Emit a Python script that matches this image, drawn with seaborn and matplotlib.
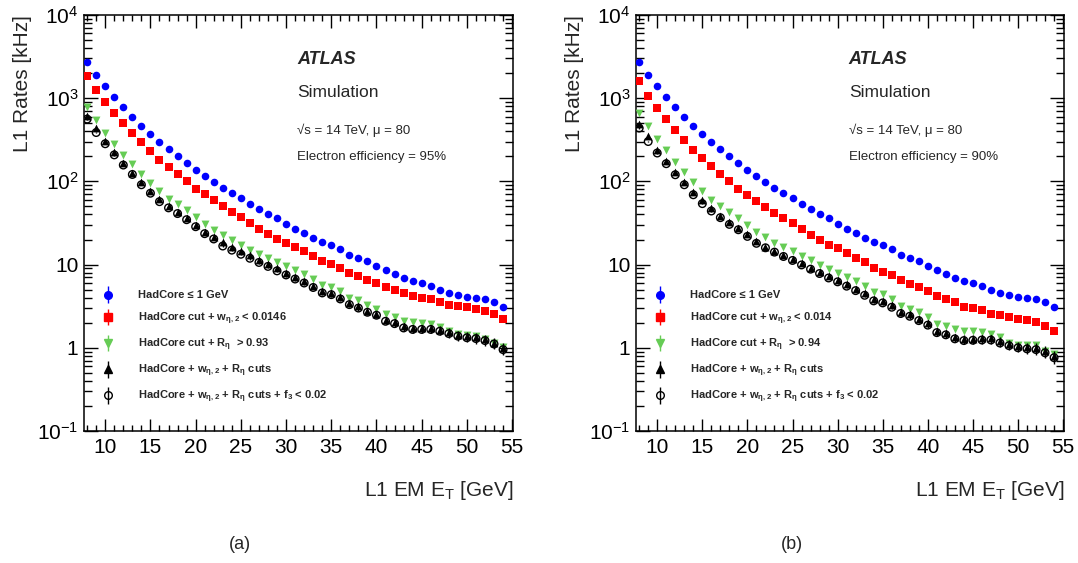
import numpy as np
import matplotlib
matplotlib.use("Agg")
import matplotlib.pyplot as plt
from matplotlib.ticker import FixedLocator, FixedFormatter, LogLocator, NullFormatter, MultipleLocator
from matplotlib.container import ErrorbarContainer
from matplotlib.legend_handler import HandlerErrorbar
import seaborn as sns

# ---------------- data ----------------
et = list(range(8, 55))  # L1 EM E_T bins [GeV]

blue_a = [2730, 1920, 1380, 1030, 780, 597, 465, 366, 296, 242, 201, 166, 138, 116, 99, 84,
          73, 63, 53, 46, 41, 36, 31, 27, 24, 21, 18.7, 17.2, 15.4, 13.1, 12.0, 10.9, 9.6,
          8.5, 7.6, 6.9, 6.4, 5.96, 5.5, 4.96, 4.56, 4.3, 4.1, 4.0, 3.9, 3.5, 3.1]
red_a = [1820, 1260, 895, 661, 496, 380, 294, 229, 182, 149, 122, 101, 82, 70, 59, 50, 43,
         37, 32, 27, 23.5, 20.5, 18.2, 16.3, 14.4, 12.7, 11.0, 10.2, 9.2, 7.85, 7.2, 6.5,
         6.0, 5.3, 4.9, 4.5, 4.2, 3.97, 3.9, 3.5, 3.3, 3.15, 3.07, 2.96, 2.8, 2.55, 2.2]
green_a = [780, 540, 380, 283, 208, 160, 121, 95, 76, 62, 54, 45, 37, 30.7, 26.2, 22.4,
           19.9, 17.0, 15.1, 13.5, 12.1, 10.8, 9.7, 8.7, 7.8, 6.7, 5.7, 5.4, 4.8, 4.0, 3.76,
           3.3, 2.93, 2.55, 2.35, 2.12, 2.05, 1.99, 1.92, 1.78, 1.58, 1.47, 1.43, 1.38,
           1.28, 1.15, 1.01]
tri_a = [614, 432, 305, 227, 166, 126, 97, 77, 61, 51, 43, 36, 30, 24.6, 21.2, 18.5, 16.4,
         14.6, 12.9, 11.5, 10.2, 9.0, 8.0, 7.1, 6.3, 5.6, 4.8, 4.55, 4.05, 3.45, 3.15, 2.8,
         2.58, 2.18, 2.04, 1.81, 1.73, 1.72, 1.72, 1.64, 1.54, 1.43, 1.37, 1.33, 1.26,
         1.15, 0.98]
circ_a = [560, 386, 283, 208, 157, 121, 91, 72, 57, 48, 41, 34.6, 28.5, 23.5, 20.3, 16.7,
          14.9, 13.3, 11.9, 10.6, 9.5, 8.4, 7.5, 6.7, 6.0, 5.3, 4.56, 4.35, 3.86, 3.3, 3.0,
          2.67, 2.46, 2.08, 1.95, 1.73, 1.66, 1.66, 1.66, 1.58, 1.48, 1.38, 1.32, 1.29,
          1.22, 1.11, 0.95]

blue_b = [2730, 1920, 1380, 1030, 780, 597, 465, 366, 296, 242, 201, 166, 138, 116, 99, 84,
          73, 63, 53, 46, 41, 36, 31, 27, 24, 21, 18.7, 17.2, 15.4, 13.1, 12.0, 10.9, 9.6,
          8.5, 7.6, 6.9, 6.4, 5.96, 5.5, 4.96, 4.56, 4.3, 4.1, 4.0, 3.9, 3.5, 3.1]
red_b = [1585, 1075, 759, 565, 416, 313, 239, 189, 151, 121, 99.7, 82, 68, 58, 49, 41.6,
         35.9, 31.3, 26.5, 22.9, 19.9, 17.2, 15.8, 13.8, 12.0, 10.7, 9.0, 8.2, 7.4, 6.5,
         5.85, 5.3, 4.86, 4.2, 3.86, 3.5, 3.13, 3.04, 2.88, 2.58, 2.46, 2.33, 2.22, 2.16,
         2.05, 1.85, 1.57]
green_b = [661, 457, 324, 239, 172, 131, 98, 77, 60, 51, 42.8, 35.9, 29.6, 24.8, 21.6,
           18.2, 16.3, 14.5, 12.8, 11.3, 10.0, 8.9, 7.9, 7.0, 6.3, 5.5, 4.7, 4.4, 3.9, 3.2,
           2.96, 2.67, 2.35, 1.95, 1.85, 1.66, 1.58, 1.57, 1.54, 1.48, 1.33, 1.15, 1.09,
           1.07, 1.07, 0.91, 0.84]
tri_b = [491, 346, 239, 175, 128, 97, 73.6, 59, 47.3, 38.6, 32.7, 27.7, 23.1, 19.2, 16.4,
         14.6, 13.0, 11.6, 10.3, 9.2, 8.2, 7.3, 6.5, 5.8, 5.1, 4.5, 3.85, 3.65, 3.25, 2.72,
         2.52, 2.24, 1.97, 1.6, 1.5, 1.35, 1.28, 1.29, 1.3, 1.3, 1.2, 1.11, 1.05, 1.02, 1.0,
         0.91, 0.8]
circ_b = [437, 301, 219, 163, 120, 91, 69, 54, 44, 36.6, 30.4, 26.2, 21.8, 18.0, 15.9,
          14.1, 12.5, 11.2, 9.9, 8.8, 7.8, 6.9, 6.2, 5.5, 4.86, 4.27, 3.66, 3.46, 3.07, 2.58,
          2.39, 2.12, 1.87, 1.52, 1.43, 1.28, 1.22, 1.23, 1.24, 1.24, 1.14, 1.06, 1.0, 0.97,
          0.95, 0.87, 0.76]

# relative statistical uncertainty of the black series
black_rel_err = [0.02, 0.02, 0.02, 0.02, 0.02, 0.02, 0.02, 0.02, 0.02, 0.02, 0.02, 0.02,
                 0.03, 0.03, 0.03, 0.03, 0.03, 0.03, 0.04, 0.04, 0.04, 0.04, 0.05, 0.05,
                 0.05, 0.05, 0.06, 0.06, 0.06, 0.07, 0.07, 0.07, 0.08, 0.08, 0.09, 0.09,
                 0.10, 0.10, 0.10, 0.11, 0.11, 0.12, 0.12, 0.13, 0.13, 0.14, 0.15]

labels_a = ["HadCore ≤ 1 GeV",
            r"HadCore cut + w$_{\eta,2}$ < 0.0146",
            r"HadCore cut + R$_{\eta}$  > 0.93",
            r"HadCore + w$_{\eta,2}$ + R$_{\eta}$ cuts",
            r"HadCore + w$_{\eta,2}$ + R$_{\eta}$ cuts + f$_{3}$ < 0.02"]
labels_b = ["HadCore ≤ 1 GeV",
            r"HadCore cut + w$_{\eta,2}$ < 0.014",
            r"HadCore cut + R$_{\eta}$  > 0.94",
            r"HadCore + w$_{\eta,2}$ + R$_{\eta}$ cuts",
            r"HadCore + w$_{\eta,2}$ + R$_{\eta}$ cuts + f$_{3}$ < 0.02"]
eff_text = ["Electron efficiency = 95%", "Electron efficiency = 90%"]
panel_tags = ["(a)", "(b)"]
ytick_vals = [0.1, 1, 10, 100, 1000, 10000]
ytick_labels = [r"$10^{-1}$", "1", "10", r"$10^{2}$", r"$10^{3}$", r"$10^{4}$"]

# ---------------- style ----------------
sns.set_theme(style="ticks")
plt.rcParams["font.family"] = ["Liberation Sans", "DejaVu Sans"]
plt.rcParams["mathtext.default"] = "regular"
plt.rcParams["axes.linewidth"] = 1.1

BLUE = "#0000ff"
RED = "#ff0000"
GREEN = "#66cc55"

fig = plt.figure(figsize=(10.78, 5.63), dpi=100)
ax_pos = [[0.0779, 0.2345, 0.398, 0.739], [0.590, 0.2345, 0.397, 0.739]]

panels = [
    (blue_a, red_a, green_a, tri_a, circ_a, labels_a),
    (blue_b, red_b, green_b, tri_b, circ_b, labels_b),
]

for i, (blue, red, green, tri, circ, labels) in enumerate(panels):
    ax = fig.add_axes(ax_pos[i])
    sns.scatterplot(x=et, y=blue, ax=ax, marker="o", s=30, color=BLUE, edgecolor=BLUE,
                    linewidth=0, legend=False, zorder=3)
    sns.scatterplot(x=et, y=red, ax=ax, marker="s", s=28, color=RED, edgecolor=RED,
                    linewidth=0, legend=False, zorder=3)
    sns.scatterplot(x=et, y=green, ax=ax, marker="v", s=32, color=GREEN, edgecolor=GREEN,
                    linewidth=0, legend=False, zorder=3)
    tri_err = [v * r for v, r in zip(tri, black_rel_err)]
    circ_err = [v * r for v, r in zip(circ, black_rel_err)]
    ax.errorbar(et, tri, yerr=tri_err, fmt="none", ecolor="black", elinewidth=1, zorder=3)
    ax.errorbar(et, circ, yerr=circ_err, fmt="none", ecolor="black", elinewidth=1, zorder=3)
    sns.scatterplot(x=et, y=tri, ax=ax, marker="^", s=32, color="black", edgecolor="black",
                    linewidth=0, legend=False, zorder=4)
    sns.scatterplot(x=et, y=circ, ax=ax, marker="o", s=30, color="black", facecolor="none",
                    edgecolor="black", linewidth=1.0, legend=False, zorder=5)

    ax.set_yscale("log")
    ax.set_xlim(7.65, 55.1)
    ax.set_ylim(0.1, 1e4)

    ax.yaxis.set_major_locator(FixedLocator(ytick_vals))
    ax.yaxis.set_major_formatter(FixedFormatter(ytick_labels))
    ax.yaxis.set_minor_locator(LogLocator(base=10, subs=np.arange(2, 10), numticks=20))
    ax.yaxis.set_minor_formatter(NullFormatter())
    ax.xaxis.set_major_locator(MultipleLocator(5))
    ax.xaxis.set_minor_locator(MultipleLocator(1))

    ax.tick_params(which="both", direction="in", top=True, right=True, colors="black",
                   labelsize=15, width=1.0)
    ax.tick_params(axis="y", which="major", length=10, pad=4)
    ax.tick_params(axis="y", which="minor", length=5.5)
    ax.tick_params(axis="x", which="major", length=9, pad=5)
    ax.tick_params(axis="x", which="minor", length=4.5)
    for sp in ax.spines.values():
        sp.set_color("black")
        sp.set_linewidth(1.1)

    ax.set_xlabel(r"L1 EM E$_{T}$ [GeV]", fontsize=15, loc="right", labelpad=16)
    ax.set_ylabel("L1 Rates [kHz]", fontsize=15, loc="top", labelpad=4)

    ax.text(0.497, 0.892, "ATLAS", transform=ax.transAxes, fontsize=13, fontweight="bold",
            fontstyle="italic", va="center", ha="left")
    ax.text(0.497, 0.8125, "Simulation", transform=ax.transAxes, fontsize=12.5,
            va="center", ha="left")
    ax.text(0.497, 0.7236, "√s = 14 TeV, μ = 80", transform=ax.transAxes, fontsize=9.5,
            va="center", ha="left")
    ax.text(0.497, 0.6587, eff_text[i], transform=ax.transAxes, fontsize=9.5,
            va="center", ha="left")
    ax.text(0.364, -0.274, panel_tags[i], transform=ax.transAxes, fontsize=13,
            va="center", ha="center")

    # legend proxies (marker with vertical error line)
    h1 = ax.errorbar([np.nan], [np.nan], yerr=[1], fmt="o", color=BLUE, ms=5.5, elinewidth=1)
    h2 = ax.errorbar([np.nan], [np.nan], yerr=[1], fmt="s", color=RED, ms=5.5, elinewidth=1)
    h3 = ax.errorbar([np.nan], [np.nan], yerr=[1], fmt="v", color=GREEN, ms=6, elinewidth=1)
    h4 = ax.errorbar([np.nan], [np.nan], yerr=[1], fmt="^", color="black", ms=6, elinewidth=1)
    h5 = ax.errorbar([np.nan], [np.nan], yerr=[1], fmt="o", color="black", mfc="none",
                     ms=5.5, elinewidth=1)
    ax.legend([h1, h2, h3, h4, h5], labels, loc="lower left",
              bbox_to_anchor=(0.045, 0.062), frameon=False,
              prop={"size": 8.0, "weight": "bold"}, handlelength=0.85, handletextpad=2.25,
              labelspacing=0.88, borderpad=0, borderaxespad=0, numpoints=1,
              handler_map={ErrorbarContainer: HandlerErrorbar(yerr_size=0.75)})

fig.savefig("out.png", dpi=100)
